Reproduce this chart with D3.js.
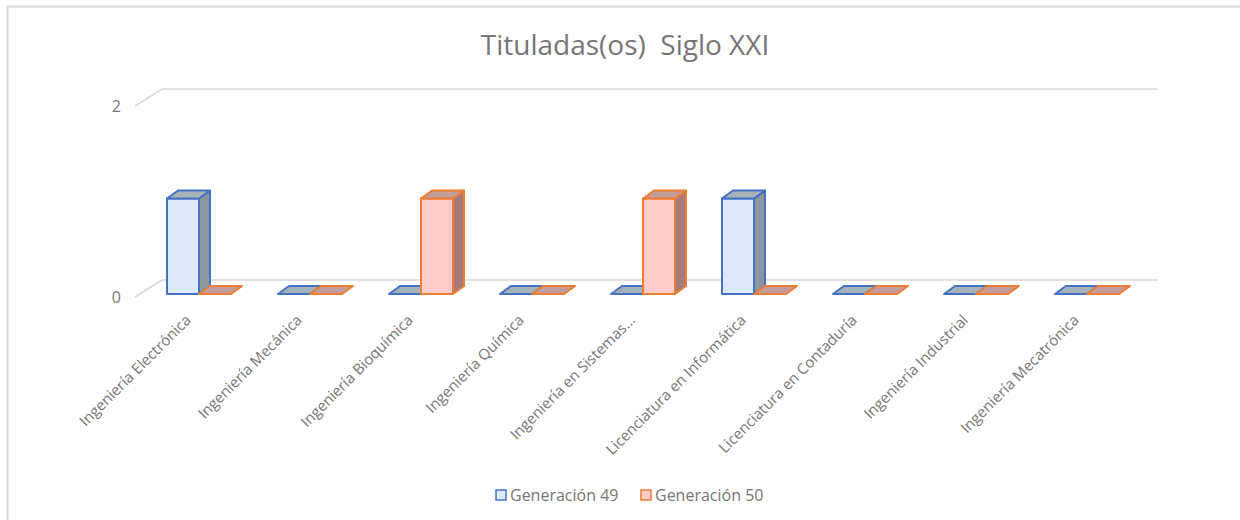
<!DOCTYPE html>
<html>
<head>
<meta charset="utf-8">
<script src="https://cdn.jsdelivr.net/npm/d3@7"></script>
<style>
  body { margin: 0; background: #fff; }
  svg { display: block; font-family: "Open Sans", sans-serif; }
</style>
</head>
<body>
<div id="chart"></div>
<script>
// data
const categories = [
  "Ingeniería Electrónica",
  "Ingeniería Mecánica",
  "Ingeniería Bioquímica",
  "Ingeniería Química",
  "Ingeniería en Sistemas...",
  "Licenciatura en Informática",
  "Licenciatura en Contaduría",
  "Ingeniería Industrial",
  "Ingeniería Mecatrónica"
];
const seriesNames = ["Generación 49", "Generación 50"];
const gen49 = [1, 0, 0, 0, 0, 1, 0, 0, 0];
const gen50 = [0, 0, 1, 0, 1, 0, 0, 0, 0];
const yTicks = [0, 2];

const w = 1240, h = 520;
const wallDx = 27, wallDy = -17;   // depth of the back wall
const barDx = 11, barDy = -8;      // depth of each bar
const textColor = '#767676';

const palette = [
  { stroke: "#4472c4", front: "#deeaf8", top: "#a8b2ba", side: "#8d969e" },
  { stroke: "#ed7d31", front: "#ffcccc", top: "#c39d9c", side: "#a67b79" }
];

const svg = d3.select('#chart')
  .append('svg')
  .attr('width', w)
  .attr('height', h);

// outer border
svg.append('path')
  .attr('d', `M7.5,${h} V6.5 H${w}`)
  .attr('fill', 'none')
  .attr('stroke', '#d9d9d9')
  .attr('stroke-width', 2);

// title
svg.append('text')
  .attr('x', 625)
  .attr('y', 55)
  .attr('text-anchor', 'middle')
  .style('font-size', '28px')
  .style('white-space', 'pre')
  .style('fill', textColor)
  .text('Tituladas(os)  Siglo XXI');

// scales
const xScale = d3.scaleBand()
  .domain(categories)
  .range([135, 1134]);

const yScale = d3.scaleLinear()
  .domain([0, 2])
  .range([297, 106]);

// back wall gridlines + left diagonals
const grid = svg.append('g').attr('class', 'grid');
yTicks.forEach(t => {
  const y = yScale(t);
  grid.append('line')
    .attr('x1', 135).attr('y1', y)
    .attr('x2', 135 + wallDx).attr('y2', y + wallDy)
    .attr('stroke', '#d9d9d9').attr('stroke-width', 1.5);
  grid.append('line')
    .attr('x1', 135 + wallDx).attr('y1', y + wallDy)
    .attr('x2', 1158).attr('y2', y + wallDy)
    .attr('stroke', '#d9d9d9').attr('stroke-width', 1.5);
});

// y labels
svg.append('g')
  .selectAll('text')
  .data(yTicks)
  .enter()
  .append('text')
  .attr('x', 121)
  .attr('y', d => yScale(d))
  .attr('dy', '0.35em')
  .attr('text-anchor', 'end')
  .style('font-size', '16px')
  .style('fill', textColor)
  .text(d => d);

// bars
const barW = 32;
const bars = [];
categories.forEach((c, i) => {
  [gen49, gen50].forEach((s, k) => {
    bars.push({ cat: c, k: k, value: s[i] });
  });
});

const base = yScale(0) - 3;
const unit = yScale(0) - yScale(1);

const barG = svg.append('g')
  .selectAll('g')
  .data(bars)
  .enter()
  .append('g')
  .attr('stroke-width', 2)
  .attr('stroke-linejoin', 'round')
  .attr('stroke', d => palette[d.k].stroke);

function x0(d) { return xScale(d.cat) + 32 + d.k * barW; }
function yTop(d) { return base - d.value * unit; }

// side face
barG.filter(d => d.value > 0)
  .append('path')
  .attr('fill', d => palette[d.k].side)
  .attr('d', d => {
    const x = x0(d) + barW, y = yTop(d);
    return `M${x},${y} L${x + barDx},${y + barDy} L${x + barDx},${base + barDy} L${x},${base} Z`;
  });

// front face
barG.filter(d => d.value > 0)
  .append('rect')
  .attr('x', d => x0(d))
  .attr('y', d => yTop(d))
  .attr('width', barW)
  .attr('height', d => base - yTop(d))
  .attr('fill', d => palette[d.k].front);

// top face
barG.append('path')
  .attr('fill', d => palette[d.k].top)
  .attr('d', d => {
    const x = x0(d), y = yTop(d);
    return `M${x},${y} L${x + barDx},${y + barDy} L${x + barW + barDx},${y + barDy} L${x + barW},${y} Z`;
  });

// category labels
svg.append('g')
  .selectAll('text')
  .data(categories)
  .enter()
  .append('text')
  .attr('transform', d => `translate(${xScale(d) + 57},${321}) rotate(-45)`)
  .attr('text-anchor', 'end')
  .style('font-size', '15px')
  .style('fill', textColor)
  .text(d => d);

// legend
const legendX = [496, 641];
const legend = svg.append('g')
  .selectAll('g')
  .data(seriesNames)
  .enter()
  .append('g')
  .attr('transform', (d, i) => `translate(${legendX[i]},490)`);

legend.append('rect')
  .attr('width', 10)
  .attr('height', 10)
  .attr('fill', (d, i) => palette[i].front)
  .attr('stroke', (d, i) => palette[i].stroke)
  .attr('stroke-width', 1.5);

legend.append('text')
  .attr('x', 14)
  .attr('y', 11)
  .style('font-size', '16px')
  .style('fill', textColor)
  .text(d => d);
</script>
</body>
</html>
